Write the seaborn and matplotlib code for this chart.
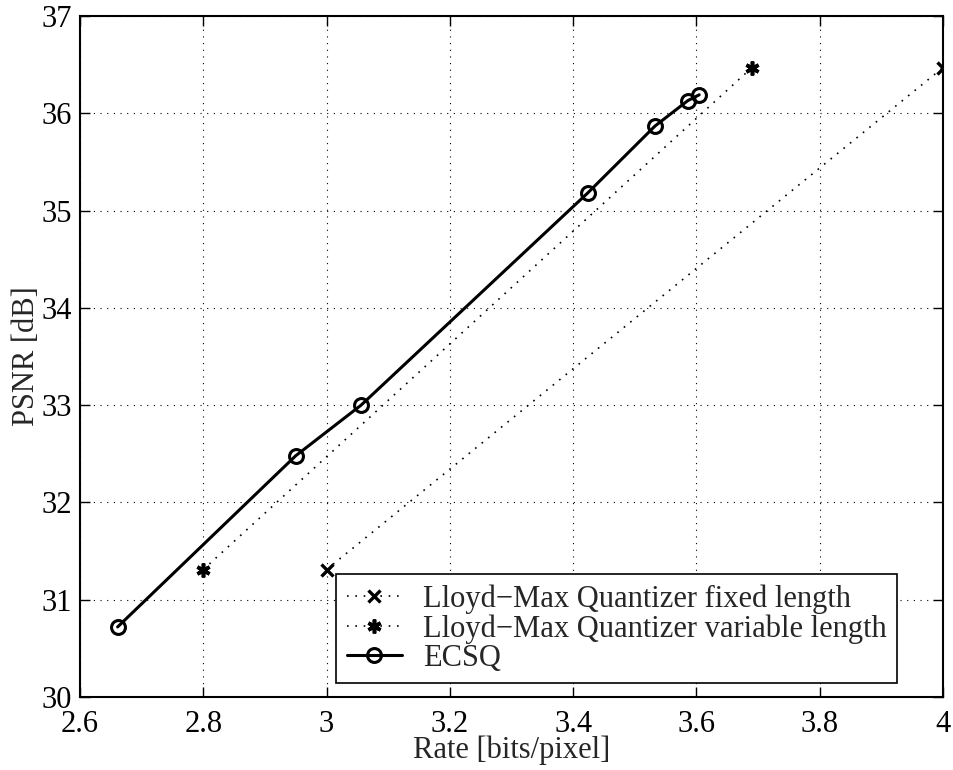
import numpy as np
import pandas as pd
import matplotlib
matplotlib.use('Agg')
import matplotlib.pyplot as plt
import seaborn as sns

# dados
rate_fixed = [3.0, 4.0]
psnr_fixed = [31.31, 36.47]

rate_var = [2.8, 3.69]
psnr_var = [31.31, 36.47]

rate_ecsq = [2.661, 2.950, 3.056, 3.4235, 3.533, 3.586, 3.6045]
psnr_ecsq = [30.72, 32.48, 33.00, 35.18, 35.87, 36.13, 36.19]

labels = ['Lloyd\u2212Max Quantizer fixed length',
          'Lloyd\u2212Max Quantizer variable length',
          'ECSQ']

xticks = [2.6, 2.8, 3.0, 3.2, 3.4, 3.6, 3.8, 4.0]
xticklabels = ['2.6', '2.8', '3', '3.2', '3.4', '3.6', '3.8', '4']
yticks = [30, 31, 32, 33, 34, 35, 36, 37]

sns.set_theme(style='white')
plt.rcParams['font.family'] = ['Liberation Serif', 'DejaVu Serif']

fig = plt.figure(figsize=(9.54, 7.7), dpi=100)
ax = fig.add_axes([80 / 954, 1 - 697 / 770, 863 / 954, 681 / 770])

dotted = (0, (1, 4))
sns.lineplot(x=rate_fixed, y=psnr_fixed, ax=ax, color='black', sort=False,
             linewidth=1.2, label=labels[0],
             marker='x', markersize=8, markeredgewidth=2.4,
             markeredgecolor='black')
ax.lines[-1].set_linestyle(dotted)
sns.lineplot(x=rate_var, y=psnr_var, ax=ax, color='black', sort=False,
             linewidth=1.2, label=labels[1],
             marker=(6, 2, 0), markersize=10, markeredgewidth=2.6,
             markeredgecolor='black')
ax.lines[-1].set_linestyle(dotted)
sns.lineplot(x=rate_ecsq, y=psnr_ecsq, ax=ax, color='black', sort=False,
             linewidth=2.2, label=labels[2],
             marker='o', markersize=10, markeredgewidth=2.2,
             markerfacecolor='none', markeredgecolor='black')

ax.set_xlim(2.6, 4.0)
ax.set_ylim(30, 37)
ax.set_xticks(xticks)
ax.set_xticklabels(xticklabels)
ax.set_yticks(yticks)
ax.grid(True, color='black', linestyle=(0, (1, 5)), linewidth=0.8)
ax.tick_params(direction='in', length=7, width=1, labelsize=22,
               top=True, right=True, bottom=True, left=True,
               colors='black')
ax.tick_params(axis='x', pad=9)
ax.tick_params(axis='y', pad=6)
for s in ax.spines.values():
    s.set_visible(True)
    s.set_color('black')
    s.set_linewidth(1.5)

ax.set_xlabel('Rate [bits/pixel]', fontsize=22, labelpad=-2)
ax.set_ylabel('PSNR [dB]', fontsize=22, labelpad=0)

leg = ax.legend(loc='lower right', bbox_to_anchor=(0.947, 0.0206),
                borderaxespad=0, fontsize=22, frameon=True, fancybox=False,
                edgecolor='black', framealpha=1, handlelength=1.8,
                handletextpad=0.7, borderpad=0.34, labelspacing=0.0)
leg.get_frame().set_linewidth(1.2)
for h in leg.get_lines()[:2]:
    h.set_linestyle(dotted)

fig.savefig('out.png', dpi=100)
